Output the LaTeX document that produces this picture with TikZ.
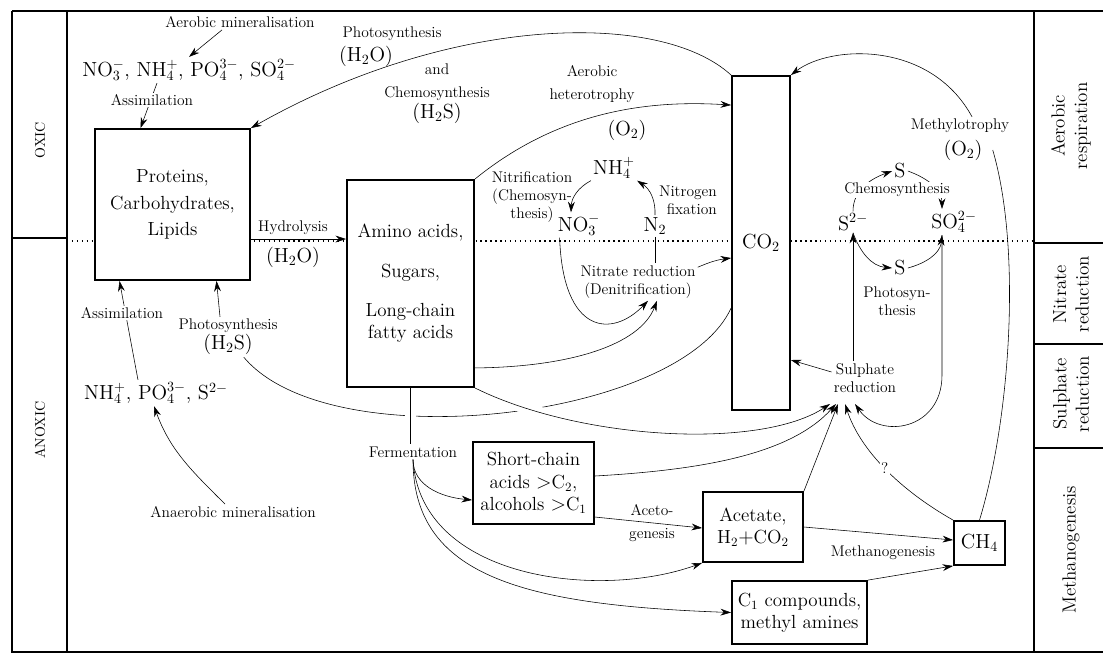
\documentclass[tikz,border=0pt]{standalone}
\usetikzlibrary{arrows.meta,backgrounds}

\newcommand{\lblfont}{\fontsize{11}{13}\selectfont}
\newcommand{\bigfont}{\fontsize{13.5}{16}\selectfont}
\newcommand{\formfont}{\fontsize{14.5}{17}\selectfont}

\tikzstyle{every node}=[text centered, align=center, font=\lblfont, inner sep=1pt]
\tikzstyle{box}=[draw, fill=white, font=\bigfont, inner sep=2pt]
\tikzstyle{species}=[font=\formfont]
\tikzstyle{blank}=[fill=white]
\tikzstyle{zone}=[rotate=90, font=\bigfont]
\tikzstyle{arr}=[-{Stealth[length=7.5pt,width=4.8pt]}]
\tikzset{halo/.style={preaction={draw=white, line width=8pt, -, dash pattern=on #1 off 2000pt}}, halo/.default=2000pt}

\begin{document}
\begin{tikzpicture}[x=0.025cm, y=-0.025cm, line width=1.3pt]
  \useasboundingbox (0,0) rectangle (1103,654);

  % frame and zones
  \draw (12,11) -- (1103,11);
  \draw (1103,652) -- (12,652) -- (12,11);
  \draw (67,11) -- (67,652);
  \draw (12,238) -- (67,238);
  \draw (1034,11) -- (1034,652);
  \draw (1034,243) -- (1103,243);
  \draw (1034,344) -- (1103,344);
  \draw (1034,448) -- (1103,448);
  \node[font=\fontsize{10}{12}\selectfont, rotate=90] (oxic) at (40,140) {OXIC};
  \node[font=\fontsize{10}{12}\selectfont, rotate=90] (anoxic) at (40,430) {ANOXIC};
  \node[zone] (zaer) at (1071,126) {Aerobic\\respiration};
  \node[zone] (znit) at (1071,294) {Nitrate\\reduction};
  \node[zone] (zsul) at (1071,394) {Sulphate\\reduction};
  \node[zone] (zmet) at (1071,550) {Methanogenesis};

  % pools
  \node[box, minimum width=3.875cm, minimum height=3.775cm] (prot) at (172.5,204.5) {Proteins,\\[3pt]Carbohydrates,\\[3pt]Lipids};
  \node[box, minimum width=3.175cm, minimum height=5.175cm] (amino) at (410.5,283.5) {Amino acids,\\[12pt]Sugars,\\[12pt]Long-chain\\fatty acids};
  \node[box, font=\formfont, minimum width=1.45cm, minimum height=8.35cm] (co2) at (761,243) {CO$_2$};
  \node[box, minimum width=3.025cm, minimum height=2.05cm] (short) at (533.5,483) {Short-chain\\acids $>$C$_2$,\\alcohols $>$C$_1$};
  \node[box, minimum width=2.5cm, minimum height=1.75cm] (acet) at (753,527) {Acetate,\\H$_2+$CO$_2$};
  \node[box, minimum width=3.375cm, minimum height=1.575cm] (cone) at (799.5,612.5) {C$_1$ compounds,\\methyl amines};
  \node[box, font=\formfont, minimum width=1.275cm, minimum height=1.1cm] (ch4) at (979.5,543) {CH$_4$};

  % nutrients
  \node (aermin) at (240,22) {Aerobic mineralisation};
  \node[species] (oxnut) at (189,70) {NO$_3^-$, NH$_4^+$, PO$_4^{3-}$, SO$_4^{2-}$};
  \node[blank] (assim1) at (152,100) {Assimilation};
  \node[blank] (assim2) at (122,313) {Assimilation};
  \node (phsan) at (228,337) {Photosynthesis\\{\formfont (H$_2$S)}};
  \node[species] (anut) at (156,393) {NH$_4^+$, PO$_4^{3-}$, S$^{2-}$};
  \node (anmin) at (233,512) {Anaerobic mineralisation};

  % process labels
  \node (hydro) at (293,228) {Hydrolysis};
  \node[species] (hydroh) at (293,257) {(H$_2$O)};
  \node (photo) at (392,34) {Photosynthesis};
  \node[species] (photoh) at (366,56) {(H$_2$O)};
  \node (chemo) at (437,94) {and\\[3pt]Chemosynthesis\\[1pt]{\formfont (H$_2$S)}};
  \node (heter) at (592,84) {Aerobic\\[3pt]heterotrophy};
  \node[species] (hetero) at (627,130) {(O$_2$)};
  \node (ferm) at (413,452) {Fermentation};
  \node (acetog) at (652,523) {Aceto-\\[4pt]genesis};
  \node (meth) at (883,553) {Methanogenesis};
  \node (methy) at (960,126) {Methylotrophy};
  \node[species] (methyo) at (963,150) {(O$_2$)};

  % nitrogen
  \node[species] (nh4) at (614,168) {NH$_4^+$};
  \node[species] (no3) at (579,225) {NO$_3^-$};
  \node[species] (ntwo) at (655,226) {N$_2$};
  \node (nitrif) at (532,197) {Nitrification\\(Chemosyn-\\thesis)};
  \node[align=right] (nfix) at (688,200) {Nitrogen\\fixation};
  \node (nitred) at (638,282) {Nitrate reduction\\(Denitrification)};

  % sulphur
  \node[blank] (chemos) at (897,190) {Chemosynthesis};
  \node[species] (sup) at (900,171) {S};
  \node[species] (stwo) at (853,222) {S$^{2-}$};
  \node[species] (sofour) at (954,222) {SO$_4^{2-}$};
  \node[species] (sbot) at (900,268) {S};
  \node (phots) at (897,301) {Photosyn-\\thesis};
  \node (sulred) at (865,378) {Sulphate\\reduction};

  \begin{scope}[on background layer]
    \draw[line width=1pt, dash pattern=on 1pt off 2.5pt] (67,241) -- (1034,241);
    % oxic zone
    \draw[arr] ([xshift=-0.45cm]aermin.south) -- (oxnut.north);
    \draw[arr] ([xshift=-0.8cm]oxnut.south) -- ([xshift=-0.8cm]prot.north);
    \draw[arr] (co2.north west) .. controls (660,10) and (450,15) .. (prot.north east);
    \draw[arr] (amino.north east) .. controls (560,110) and (650,100) .. ([yshift=-0.75cm]co2.north west);
    \draw[arr] ([yshift=-0.8625cm]prot.east) -- ([yshift=-0.8625cm]prot.east -| amino.west);
    \draw (ch4.north) .. controls (1010,420) and (1022,250) .. ([xshift=0.2cm]methyo.east);
    \draw[arr] ([xshift=0.3cm]methy.north) .. controls (930,40) and (830,45) .. (co2.north east);
    % nitrogen cycle
    \draw[arr] (nh4.south west) to[bend right=30] ([xshift=-0.2cm]no3.north);
    \draw[arr] (ntwo.north) to[bend right=30] (nh4.south east);
    \draw[arr] ([xshift=0.1cm]no3.south west) .. controls (563,335) and (612,338) .. ([xshift=0.25cm]nitred.south);
    \draw (ntwo.south) -- (ntwo.south |- nitred.north);
    \draw[arr] ([yshift=-0.1cm]nitred.north east) to[bend left=8] ([yshift=-0.375cm]co2.west);
    \draw[arr] ([yshift=0.5cm]amino.south east) .. controls (570,367) and (640,345) .. ([xshift=0.475cm]nitred.south);
    % anoxic zone
    \draw[arr] ([xshift=-0.45cm]anut.north) -- ([xshift=-1.325cm]prot.south);
    \draw[arr] ([xshift=-0.2cm]phsan.north) -- ([xshift=1.1cm]prot.south);
    \draw[arr] ([xshift=-0.2cm]anmin.north) to[out=135,in=-70] ([xshift=-0.05cm]anut.south);
    \draw ([yshift=-1.625cm]co2.west) .. controls (680,420) and (330,460) .. ([xshift=-0.9cm]phsan.south east);
    \draw[halo] (amino.south) -- (amino.south |- ferm.north);
    \draw[arr, halo=90pt] (amino.south east) .. controls (580,440) and (760,450) .. ([xshift=-0.875cm,yshift=-0.225cm]sulred.south);
    \draw[arr] (ferm.south) .. controls (413,485) and (440,497) .. ([yshift=-0.425cm]short.west);
    \draw[arr] (ferm.south) .. controls (420,580) and (600,600) .. (acet.south west);
    \draw[arr] (ferm.south) .. controls (413,575) and (520,605) .. (cone.west);
    \draw[arr] ([yshift=-0.85cm]short.east) -- ([yshift=-0.025cm]acet.west);
    \draw[arr] (acet.east) -- ([yshift=0.075cm]ch4.west);
    \draw[arr] (cone.north east) -- (ch4.south west);
    % sulphur cycle
    \draw[arr] ([yshift=0.175cm]short.east) .. controls (700,470) and (790,455) .. ([xshift=-0.725cm,yshift=-0.225cm]sulred.south);
    \draw[arr] (acet.north east) -- ([xshift=-0.675cm,yshift=-0.225cm]sulred.south);
    \draw[arr] (ch4.north west) .. controls (900,490) and (860,450) .. ([xshift=-0.5cm,yshift=-0.225cm]sulred.south)
      node[blank, pos=0.5] (qmark) {?};
    \draw[arr] ([xshift=-0.3cm]sofour.south) -- ++(0,140) .. controls +(0,55) and (880,440) .. ([xshift=-0.25cm,yshift=-0.225cm]sulred.south);
    \draw[arr] ([yshift=0.15cm]sulred.west) -- ([yshift=-2.925cm]co2.east);
    \draw[arr] (stwo.south |- sulred.north) -- (stwo.south);
    \draw[arr] (stwo.north) to[out=90,in=200] (sup.west);
    \draw[arr] (sup.east) to[out=-20,in=90] ([xshift=-0.3cm]sofour.north);
    \draw[arr] (stwo.south) to[out=-70,in=175] (sbot.west);
    \draw[arr] (sbot.east) to[out=15,in=-95] ([xshift=-0.3cm]sofour.south);
  \end{scope}
\end{tikzpicture}
\end{document}
